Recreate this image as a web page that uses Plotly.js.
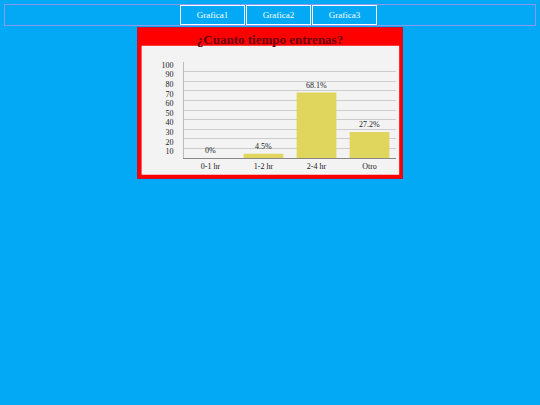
<!DOCTYPE html>
<html>
<head>
<meta charset="utf-8">
<script src="https://cdn.plot.ly/plotly-3.0.1.min.js"></script>
<style>
  body { margin: 0; background: #03A9F4; width: 540px; height: 405px; overflow: hidden; font-family: "Liberation Serif", serif; }
  #nav { position: absolute; left: 4px; top: 4px; width: 530px; height: 20px; border: 1px solid #8b97ee; }
  .btn { position: absolute; top: 5px; width: 63px; height: 18px; border: 1px solid #ffffff; color: #ffffff;
         font-size: 9px; line-height: 18px; text-align: center; }
  #box { position: absolute; left: 137px; top: 27px; width: 264px; height: 150px; border: 1px solid #c81030; }
  #chart { width: 264px; height: 150px; }
</style>
</head>
<body>
<div id="nav"></div>
<div class="btn" style="left:180px">Grafica1</div>
<div class="btn" style="left:246px">Grafica2</div>
<div class="btn" style="left:312px">Grafica3</div>
<div id="box"><div id="chart"></div></div>
<script>
const categories = ["0-1 hr", "1-2 hr", "2-4 hr", "Otro"];
const values = [0, 4.5, 68.1, 27.2];
const labels = ["0%", "4.5%", "68.1%", "27.2%"];
const yTicks = [10, 20, 30, 40, 50, 60, 70, 80, 90, 100];

const trace = {
  type: "bar",
  x: categories,
  y: values,
  text: labels,
  textposition: "outside",
  cliponaxis: false,
  textfont: { family: "Liberation Serif", size: 8, color: "#222" },
  marker: { color: "#e0d65e" },
  hoverinfo: "none"
};

const layout = {
  width: 264,
  height: 150,
  margin: { l: 46, r: 6, t: 34, b: 20 },
  paper_bgcolor: "#ff0000",
  plot_bgcolor: "#f3f3f3",
  bargap: 0.25,
  showlegend: false,
  font: { family: "Liberation Serif", size: 8, color: "#222" },
  title: {
    text: "<b>¿Cuanto tiempo entrenas?</b>",
    font: { family: "Liberation Serif", size: 13, color: "#6a0010" },
    x: 0.5, xanchor: "center", y: 0.955, yanchor: "top"
  },
  shapes: [{
    type: "rect", xref: "paper", yref: "paper", layer: "below",
    x0: -0.2, x1: 1.015, y0: -0.175, y1: 1.17,
    fillcolor: "#f3f3f3", line: { width: 0 }
  }],
  xaxis: {
    showgrid: false,
    showline: true, linecolor: "#888", linewidth: 1,
    ticks: "", tickfont: { size: 8, color: "#222" }
  },
  yaxis: {
    range: [0, 100],
    tickvals: yTicks,
    showgrid: true, gridcolor: "#cccccc", gridwidth: 1,
    showline: true, linecolor: "#bbb", linewidth: 1,
    zeroline: false,
    ticks: "", ticklabelstandoff: 8, ticklabelshift: 3,
    tickfont: { size: 8, color: "#222" }
  }
};

Plotly.newPlot("chart", [trace], layout, { staticPlot: true, displayModeBar: false });
</script>
</body>
</html>
